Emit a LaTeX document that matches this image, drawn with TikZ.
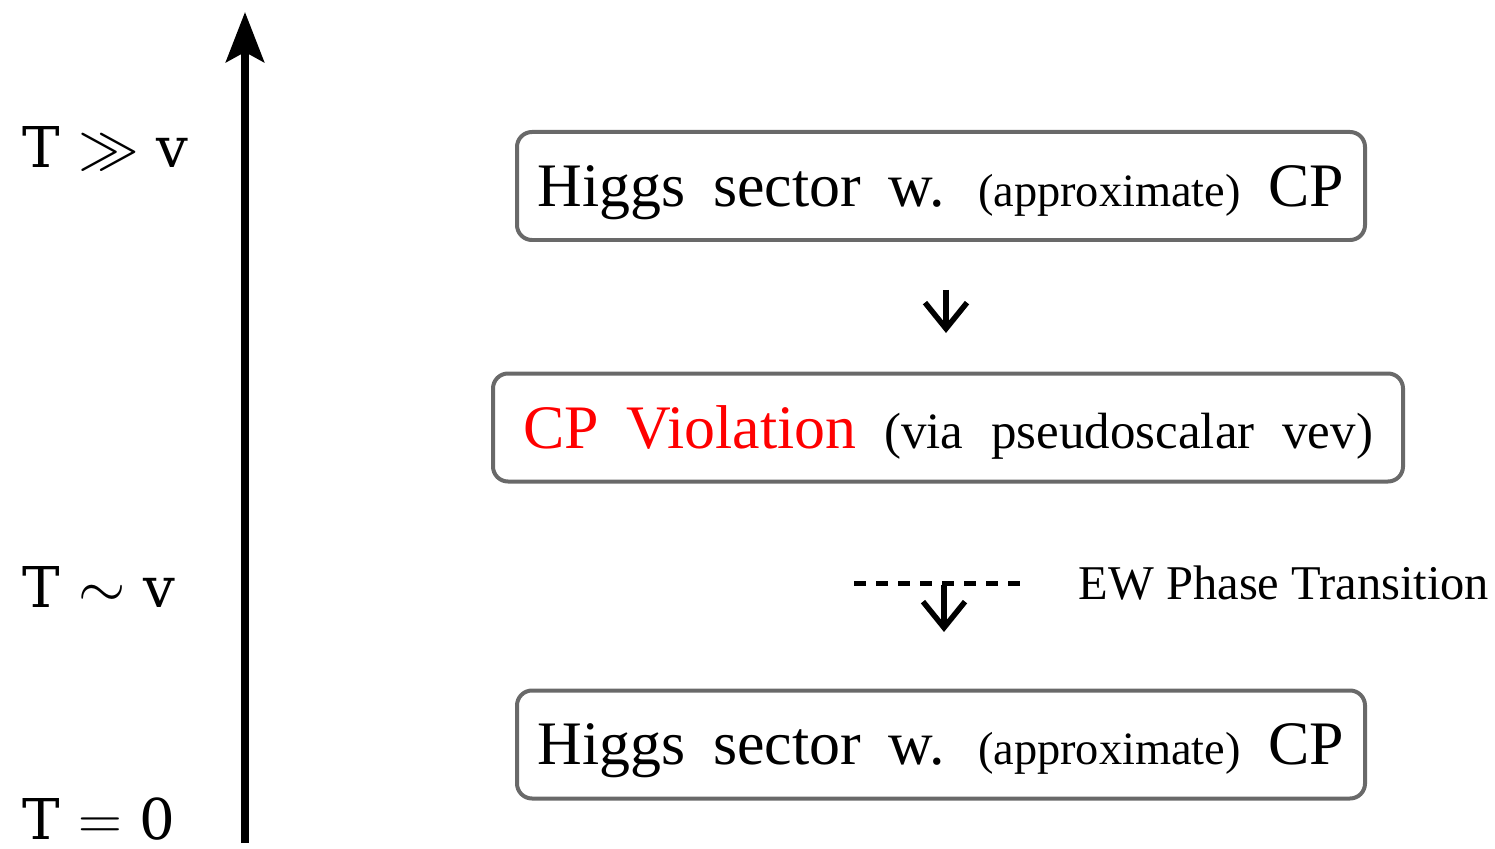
\documentclass[tikz,border=0pt]{standalone}
\usepackage{fontspec}
\usetikzlibrary{arrows.meta}
\newfontfamily\boxfont{Liberation Serif}
\newfontfamily\tempfont{DejaVu Serif}
\newcommand\boxspacing{\spaceskip=0.45em plus 0.1em\relax}
\definecolor{boxgray}{RGB}{105,105,105}

\begin{document}
\begin{tikzpicture}
	\tikzstyle{sector}=[draw=boxgray,line width=0.04cm,rounded corners=0.15cm,minimum height=1.08cm,inner sep=0pt,text depth=0pt,font=\boxfont\fontsize{17.6}{20}\selectfont\boxspacing]
	\tikzstyle{temp}=[anchor=base west,inner sep=0pt,font=\tempfont\fontsize{16}{19}\selectfont]
	\tikzstyle{flow}=[-{Straight Barb[length=0.26cm,width=0.42cm]},line width=0.055cm]
	\useasboundingbox (0,0) rectangle (14.95,8.48);
	
	% temperature axis
	\coordinate (axis-bot) at (2.45,0.05);
	\coordinate (axis-top) at (2.45,8.36);
	\draw[-{Stealth[length=0.5cm,width=0.38cm,inset=0.1cm]},line width=0.08cm] (axis-bot) -- (axis-top);
	
	\node[temp](t-high) at (0.22,6.80){T $\gg$ v};
	\node[temp](t-ew) at (0.22,2.41){T $\sim$ v};
	\node[temp](t-zero) at (0.22,0.09){T $=$ 0};
	
	% boxes
	\node[sector,minimum width=8.48cm](h-high) at (9.41,6.62){Higgs sector w. {\fontsize{13.2}{16}\selectfont(approximate)} CP};
	\node[sector,minimum width=9.10cm](cp-viol) at (9.48,4.205){\textcolor{red}{CP Violation} {\fontsize{14.5}{17}\selectfont(via pseudoscalar vev)}};
	\node[sector,minimum width=8.48cm](h-low) at (9.41,1.035){Higgs sector w. {\fontsize{13.2}{16}\selectfont(approximate)} CP};
	
	% arrows
	\coordinate (a1-s) at (9.46,5.58);
	\coordinate (a1-e) at (9.46,5.15);
	\path[flow] (a1-s) edge (a1-e);
	
	\coordinate (pt-l) at (8.54,2.65);
	\coordinate (pt-r) at (10.24,2.65);
	\draw[line width=0.05cm,dash pattern=on 0.12cm off 0.1cm] (pt-l) -- (pt-r);
	\node[anchor=west,inner sep=0pt,font=\boxfont\fontsize{13.8}{17}\selectfont](ew-pt) at (10.78,2.65){EW Phase Transition};
	
	\coordinate (a2-s) at (9.44,2.63);
	\coordinate (a2-e) at (9.44,2.16);
	\path[flow] (a2-s) edge (a2-e);
\end{tikzpicture}
\end{document}
